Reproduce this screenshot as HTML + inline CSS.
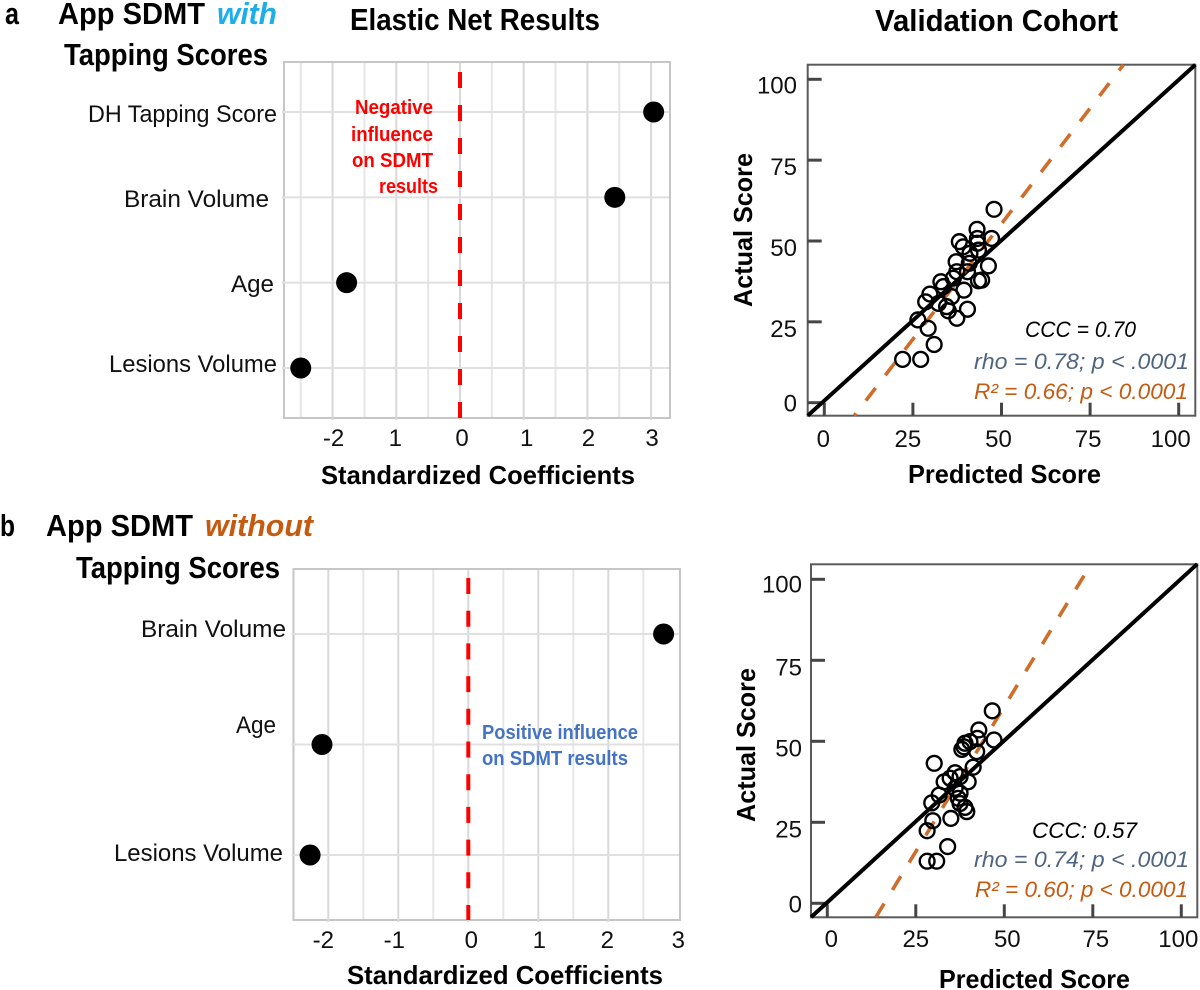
<!DOCTYPE html>
<html lang="en">
<head>
<meta charset="utf-8">
<title>Elastic Net Results and Validation Cohort</title>
<style>
html,body{margin:0;padding:0;background:#fff;}
svg{display:block;}
text{font-family:"Liberation Sans",sans-serif;fill:#000;}
.h{font-weight:700;font-size:31px;}
.axt{font-weight:700;font-size:26px;}
.cat{font-size:24px;fill:#111;}
.tick{font-size:24px;fill:#111;}
.st{font-style:italic;font-size:22px;}
.note{font-weight:700;font-size:20px;}
</style>
</head>
<body>
<svg id="fig" width="1200" height="990" viewBox="0 0 1200 990" xmlns="http://www.w3.org/2000/svg">
<text class="h" x="5" y="24" textLength="14" lengthAdjust="spacingAndGlyphs">a</text>
<text class="h" x="58" y="24" textLength="147" lengthAdjust="spacingAndGlyphs">App SDMT</text>
<text class="h" x="217" y="24" style="font-style:italic;fill:#1cadea" textLength="60" lengthAdjust="spacingAndGlyphs">with</text>
<text class="h" x="64" y="65" textLength="204" lengthAdjust="spacingAndGlyphs">Tapping Scores</text>
<text class="h" x="350" y="30" textLength="250" lengthAdjust="spacingAndGlyphs">Elastic Net Results</text>
<text class="h" x="875" y="31" textLength="243" lengthAdjust="spacingAndGlyphs">Validation Cohort</text>
<text class="h" x="0" y="536" textLength="15" lengthAdjust="spacingAndGlyphs">b</text>
<text class="h" x="46" y="536" textLength="147" lengthAdjust="spacingAndGlyphs">App SDMT</text>
<text class="h" x="205" y="536" style="font-style:italic;fill:#c55a11" textLength="108" lengthAdjust="spacingAndGlyphs">without</text>
<text class="h" x="76" y="578" textLength="204" lengthAdjust="spacingAndGlyphs">Tapping Scores</text>
</svg>
<script>
/* ---------- coefficient chart data ---------- */
const categoriesA = ["DH Tapping Score", "Brain Volume", "Age", "Lesions Volume"];
const coefficientsA = [3.04, 2.43, -1.78, -2.5];
const coefTickValuesA = [-2, -1, 0, 1, 2, 3];
const coefTickLabelsA = ["-2", "1", "0", "1", "2", "3"];

const categoriesB = ["Brain Volume", "Age", "Lesions Volume"];
const coefficientsB = [2.79, -2.09, -2.26];
const coefTickValuesB = [-2, -1, 0, 1, 2, 3];
const coefTickLabelsB = ["-2", "-1", "0", "1", "2", "3"];

/* ---------- validation scatter data ---------- */
const predictedA = [47.9,43.1,47.2,38.1,43.2,39.2,43.2,43.5,41.1,37.2,40.9,46.3,37.4,40.4,32.9,44.4,43.5,36.4,33.6,39.4,29.8,35.9,28.6,32.2,34.5,40.4,35,37.4,26.4,29.3,31,22.1,27.2];
const actualA =    [59.8,53.6,50.8,49.8,50.8,48.2,49.3,47.2,46.2,43.6,43.1,42.3,40.5,40.5,37.4,37.9,37.7,38.5,35.9,34.8,33.6,32.8,31.2,30.7,29.7,28.9,28.4,26.1,25.6,23,18,13.4,13.4];
const predictedB = [46.6,42.8,47.1,42.4,40.3,38.9,38,38.6,42.2,30.2,41.2,36.1,37.5,39.8,33,34.7,36.1,37.5,31.6,37,29.5,37.5,39.4,38.9,34.9,29.8,28.2,34,28.2,30.9];
const actualB =    [59.4,53.5,50.4,50.9,49.9,49.4,47.5,48.3,46.8,43.2,42,40.3,39.1,37.5,37.5,38.6,35.5,34,33.4,32.4,31,30.8,28.3,29.6,26.2,25.5,22.4,17.5,13,13];
const scoreTicks = [0, 25, 50, 75, 100];
const identityLineA = [[-4.68, -4.02], [104.7, 104.5]];
const regressionLineA = [[8.46, -4.02], [84.4, 104.5]];
const identityLineB = [[-4.6, -4.3], [104.5, 104.7]];
const regressionLineB = [[13.7, -4.3], [73.3, 102.5]];

const NS = "http://www.w3.org/2000/svg";
const fig = document.getElementById("fig");

function mk(tag, attrs) {
  const el = document.createElementNS(NS, tag);
  for (const k in attrs) el.setAttribute(k, attrs[k]);
  fig.appendChild(el);
  return el;
}
function txt(str, cls, x, y, extra) {
  const el = mk("text", Object.assign({class: cls, x: x, y: y}, extra || {}));
  el.textContent = str;
  if (extra && extra.textLength) el.setAttribute("lengthAdjust", "spacingAndGlyphs");
  return el;
}

/* ---------- coefficient panel ---------- */
function drawCoef(c) {
  const X = v => c.zero + c.unit * v;
  const Y = i => c.rowTop + c.rowStep * i;

  const panel = mk("rect", {x: c.left, y: c.top, width: c.right - c.left, height: c.bottom - c.top, fill: "#fff", stroke: "#c6c6c6", "stroke-width": 2});
  
  

  for (let k = c.gridFrom; k <= c.gridTo; k++) {
    const major = k % 2 === 0;
    const g = mk("line", {x1: X(k / 2), x2: X(k / 2), y1: c.top + 1, y2: c.bottom - 1 + (major ? 3 : 0), stroke: major ? "#d8d8d8" : "#e6e6e6", "stroke-width": 2});
    
    
  }
  c.categories.forEach((name, i) => {
    const g = mk("line", {x1: c.left - 2, x2: c.right - 1, y1: Y(i), y2: Y(i), stroke: "#e0e0e0", "stroke-width": 2});
    
    
    const s = c.catLayout[i];
    const t = txt(name, "cat", s[0], s[1], {textLength: s[2]});
    
    
  });

  const zero = mk("line", {x1: X(0), x2: X(0), y1: c.dashTop, y2: c.bottom, stroke: "#ff0000", "stroke-width": 4, "stroke-dasharray": c.dash});
  
  

  c.values.forEach((v, i) => {
    const d = mk("circle", {cx: X(v), cy: Y(i), r: 10.5, fill: "#000"});
    
    
  });

  c.tickValues.forEach((v, i) => {
    const t = txt(c.tickLabels[i], "tick", X(v) + c.tickNudge[i], c.tickBase, {"text-anchor": "middle"});
    
    
  });
  const at = txt("Standardized Coefficients", "axt", c.titleX, c.titleBase, {textLength: c.titleW});
  
  
}

drawCoef({
  id: "coef-a", categories: categoriesA, values: coefficientsA, tickValues: coefTickValuesA, tickLabels: coefTickLabelsA,
  zero: 460, unit: 63.7, left: 284, right: 670, top: 62, bottom: 418, rowTop: 112, rowStep: 85.33,
  gridFrom: -5, gridTo: 6, dashTop: 72, dash: "16 17",
  catLayout: [[88, 122, 189], [124, 207, 145], [231, 292, 43], [109, 372, 168]],
  tickNudge: [1, -1, 2, 3, 1, 1], tickBase: 446, titleX: 321, titleBase: 484, titleW: 314
});
drawCoef({
  id: "coef-b", categories: categoriesB, values: coefficientsB, tickValues: coefTickValuesB, tickLabels: coefTickLabelsB,
  zero: 468.3, unit: 70, left: 293.5, right: 680, top: 569, bottom: 920, rowTop: 634, rowStep: 110.5,
  gridFrom: -4, gridTo: 5, dashTop: 578, dash: "16 16.7",
  catLayout: [[141, 637, 145], [236, 733, 40], [114, 861, 169]],
  tickNudge: [-5, -4, 3, 1, -1, 0], tickBase: 948, titleX: 347, titleBase: 984, titleW: 316
});

/* ---------- scatter panel ---------- */
function drawScatter(c) {
  const X = v => c.x0 + c.xs * v;
  const Y = v => c.y0 - c.ys * v;

  const box = mk("rect", {x: c.left, y: c.top, width: c.right - c.left, height: c.bottom - c.top, fill: "#fff", stroke: "#5a5a5a", "stroke-width": 2});
  
  

  scoreTicks.forEach((v, i) => {
    const a = mk("line", {x1: X(v), x2: X(v), y1: c.bottom, y2: c.bottom - 13, stroke: "#454545", "stroke-width": 3});
    
    
    const b = mk("line", {x1: c.left, x2: c.left + 14, y1: Y(v), y2: Y(v), stroke: "#454545", "stroke-width": 3});
    
    
    const tx = txt(String(v), "tick", X(v) + c.xNudge[i], c.xBase, {"text-anchor": "middle"});
    
    
    const ty = txt(String(v), "tick", c.yRight, Y(v) + c.yNudge[i], {"text-anchor": "end"});
    
    
  });

  const id = mk("line", {x1: X(c.identity[0][0]), y1: Y(c.identity[0][1]), x2: X(c.identity[1][0]), y2: Y(c.identity[1][1]), stroke: "#000", "stroke-width": 4});
  
  

  const reg = mk("line", {x1: X(c.regression[0][0]), y1: Y(c.regression[0][1]), x2: X(c.regression[1][0]), y2: Y(c.regression[1][1]), stroke: "#cf6d2a", "stroke-width": 3.6, "stroke-dasharray": "16 16", "stroke-dashoffset": c.dashOffset});
  
  

  c.xs_.forEach((v, i) => {
    const p = mk("circle", {cx: X(v), cy: Y(c.ys_[i]), r: 7.4, fill: "none", stroke: "#000", "stroke-width": 2.4});
    
    
  });

  const xt = txt("Predicted Score", "axt", c.pX, c.pBase, {textLength: c.pW});
  
  
  const yt = txt("Actual Score", "axt", c.aX, c.aY, {textLength: 154, transform: "rotate(-90 " + c.aX + " " + c.aY + ")"});
  
  

  const n1 = txt(c.notes[0], "st", c.noteX[0], c.noteBase[0], {textLength: c.noteW[0], style: "fill:#000"});
  
  
  const n2 = txt(c.notes[1], "st", c.noteX[1], c.noteBase[1], {textLength: c.noteW[1], style: "fill:#4f6480"});
  
  
  const n3 = txt(c.notes[2], "st", c.noteX[2], c.noteBase[2], {textLength: c.noteW[2], style: "fill:#c55a11"});
  
  
}

drawScatter({
  id: "scatter-a", xs_: predictedA, ys_: actualA, identity: identityLineA, regression: regressionLineA, dashOffset: 13,
  x0: 824.3, xs: 3.544, y0: 402.7, ys: 3.234, left: 807.7, right: 1195.3, top: 64.7, bottom: 415.7,
  xNudge: [-1, -5, -3, -2, -8], xBase: 447, yRight: 797, yNudge: [9, 15, 15, 15, 14],
  pX: 908, pBase: 483, pW: 193, aX: 752, aY: 307,
  notes: ["CCC = 0.70", "rho = 0.78; p < .0001", "R² = 0.66; p < 0.0001"],
  noteX: [1025, 974, 974], noteBase: [337, 369, 399], noteW: [111, 215, 214]
});
drawScatter({
  id: "scatter-b", xs_: predictedB, ys_: actualB, identity: identityLineB, regression: regressionLineB, dashOffset: 0,
  x0: 827.3, xs: 3.54, y0: 903.3, ys: 3.24, left: 811, right: 1197.3, top: 564.3, bottom: 917.3,
  xNudge: [4, 0, 3, 3, -3], xBase: 947, yRight: 802, yNudge: [9, 15, 15, 15, 13],
  pX: 939, pBase: 988, pW: 191, aX: 755, aY: 822,
  notes: ["CCC: 0.57", "rho = 0.74; p < .0001", "R² = 0.60; p < 0.0001"],
  noteX: [1032, 974, 975], noteBase: [838, 867, 897], noteW: [105, 215, 213]
});

/* ---------- coloured notes ---------- */
const redLines = ["Negative", "influence", "on SDMT", "results"];
const blueLines = ["Positive influence", "on SDMT results"];
[[355, 114, 78], [351, 141, 82], [352, 167, 81], [379, 193, 59]].forEach((s, i) => {
  const t = txt(redLines[i], "note", s[0], s[1], {textLength: s[2], style: "fill:#ff0000"});
  
  
});
[[482, 739, 156], [482, 765, 146]].forEach((s, i) => {
  const t = txt(blueLines[i], "note", s[0], s[1], {textLength: s[2], style: "fill:#4472c4"});
  
  
});
</script>
</body>
</html>
